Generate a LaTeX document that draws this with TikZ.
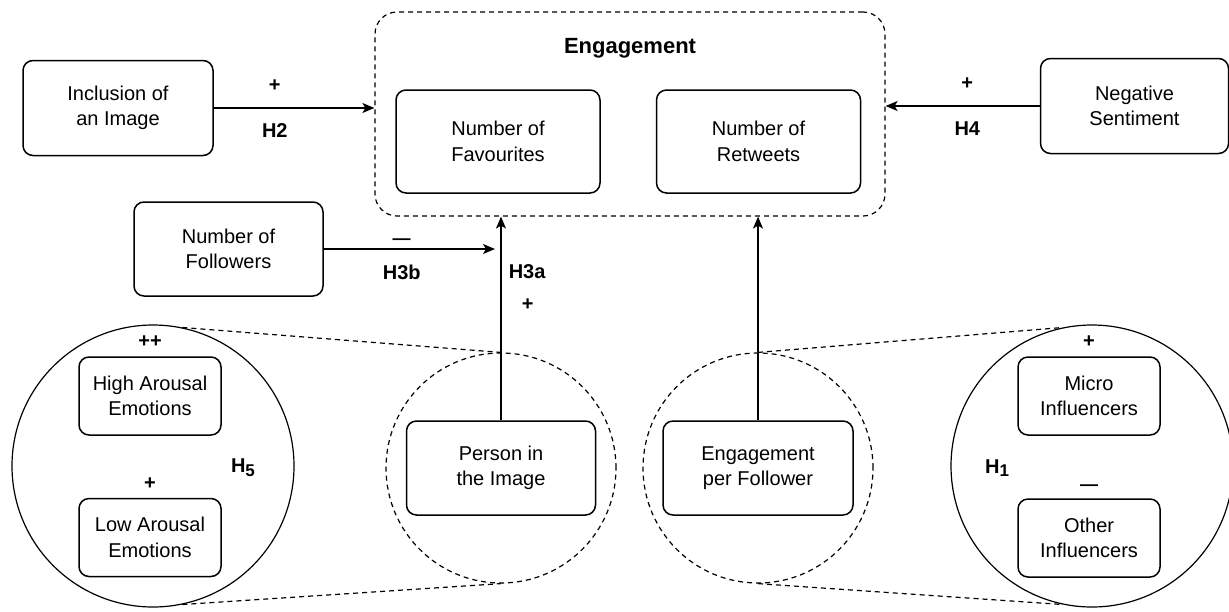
\documentclass[tikz,border=0pt]{standalone}
\usepackage{fontspec}
\setmainfont{Liberation Sans}
\usetikzlibrary{arrows.meta,positioning}

\newcommand{\hsub}[1]{H\raisebox{-0.35ex}{\fontsize{8.5}{9}\selectfont #1}}

\begin{document}
\begin{tikzpicture}[x=0.5pt,y=-0.5pt,
    box/.style={draw, rounded corners=5pt, line width=0.75pt, align=center, inner sep=0pt, font=\fontsize{10}{12.8}\selectfont},
    lbl/.style={inner sep=0pt, font=\bfseries\fontsize{10}{12}\selectfont},
    arr/.style={-{Stealth[length=6pt,width=5pt,inset=1.5pt]}, line width=0.75pt},
    dsh/.style={dash pattern=on 2.5pt off 2pt, line width=0.6pt}]
            \useasboundingbox (0,0) rectangle (1229,611);
            \node[draw, circle, line width=0.6pt, minimum size=141pt, inner sep=0pt] (emo) at (153,466) {};
            \node[draw, circle, line width=0.6pt, minimum size=141pt, inner sep=0pt] (infl) at (1092,466) {};
            \node[draw, dsh, circle, minimum size=115pt, inner sep=0pt] (pcirc) at (501,468) {};
            \node[draw, dsh, circle, minimum size=115pt, inner sep=0pt] (fcirc) at (758,468) {};
            \draw[dsh] (emo.78) -- (pcirc.north);
            \draw[dsh] (emo.-78) -- (pcirc.south);
            \draw[dsh] (fcirc.north) -- (infl.102);
            \draw[dsh] (fcirc.south) -- (infl.-102);
            \node[draw, dsh, rounded corners=11pt, minimum width=255pt, minimum height=102pt] (engage) at (630,114) {};
            \node[lbl, font=\bfseries\fontsize{11}{13}\selectfont] (title) at (630,48) {Engagement};
            \node[box, minimum width=102pt, minimum height=51.5pt] (fav) at (498,141.5) {Number of\\Favourites};
            \node[box, minimum width=102pt, minimum height=51.5pt] (rt) at (758.5,141.5) {Number of\\Retweets};
            \node[box, minimum width=95pt, minimum height=47.5pt] (img) at (118,108) {Inclusion of\\an Image};
            \node[box, minimum width=94pt, minimum height=47.5pt] (neg) at (1134.5,106) {Negative\\Sentiment};
            \node[box, minimum width=94.5pt, minimum height=47pt] (foll) at (228.5,249) {Number of\\Followers};
            \node[box, minimum width=94.5pt, minimum height=47pt] (pers) at (501,468) {Person in\\the Image};
            \node[box, minimum width=95pt, minimum height=47pt] (epf) at (758,468) {Engagement\\per Follower};
            \node[box, minimum width=71pt, minimum height=39pt] (high) at (150,396) {High Arousal\\Emotions};
            \node[box, minimum width=71pt, minimum height=39pt] (low) at (150,537.5) {Low Arousal\\Emotions};
            \node[box, minimum width=71pt, minimum height=39pt] (micro) at (1089,396) {Micro\\Influencers};
            \node[box, minimum width=71pt, minimum height=39pt] (other) at (1089,538) {Other\\Influencers};
            \node[lbl, above=4pt of high] (pp) {++};
            \node[lbl, above=4pt of low] (p) {+};
            \node[lbl, above=4pt of micro] (pm) {+};
            \node[lbl, above=3.5pt of other, font=\bfseries\fontsize{9}{10}\selectfont] (mo) {—};
            \node[lbl] (h5) at (243,468) {\hsub{5}};
            \node[lbl] (h1) at (997,468) {\hsub{1}};
            \draw[arr] (img.east) -- (img.east -| engage.west) node[lbl, pos=.38, above=8pt] {+} node[lbl, pos=.38, below=7.5pt] {H2};
            \draw[arr] (neg.west) -- (neg.west -| engage.east) node[lbl, pos=.47, above=8pt] {+} node[lbl, pos=.47, below=7.5pt] {H4};
            \draw[arr, shorten >=3pt] (foll.east) -- (foll.east -| pers.north) node[lbl, pos=.44, above=2pt, font=\bfseries\fontsize{9}{10}\selectfont] {—} node[lbl, pos=.44, below=7.5pt] {H3b};
            \draw[arr] (pers.north) -- (pers.north |- engage.south) node[lbl, pos=.57, right=10pt] {+} node[lbl, pos=.73, right=3.5pt] {H3a};
            \draw[arr] (epf.north) -- (epf.north |- engage.south);
        \end{tikzpicture}
\end{document}
